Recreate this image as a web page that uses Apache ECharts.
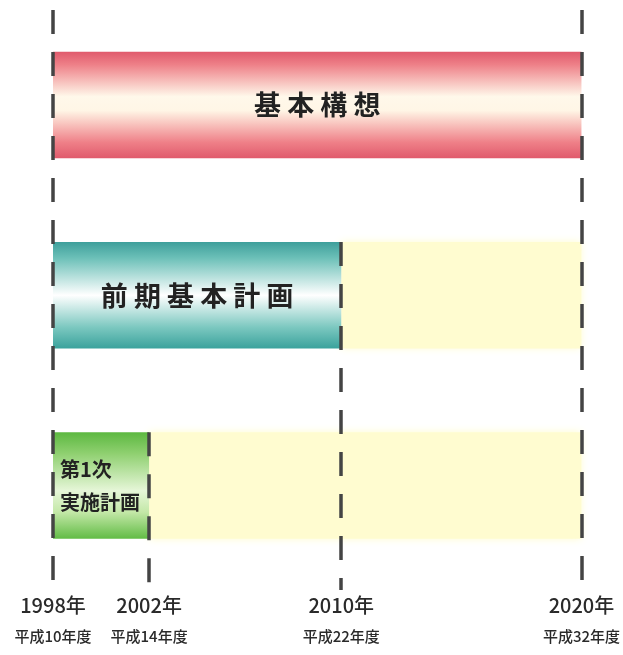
<!DOCTYPE html>
<html>
<head>
<meta charset="utf-8">
<script src="https://cdn.jsdelivr.net/npm/echarts@6/dist/echarts.min.js"></script>
<style>
html,body{margin:0;padding:0;background:#fff;}
#chart{width:623px;height:655px;}
</style>
</head>
<body>
<div id="chart"></div>
<script>
// ---- data ----
const milestoneYears = [1998, 2002, 2010, 2020];
const eraLabels = ['平成10年度', '平成14年度', '平成22年度', '平成32年度'];
const milestoneStartRow = [0, 2, 1, 0];   // row where each dashed line begins
const planNames = ['基本構想', '前期基本計画', '第1次\n実施計画'];
const planRows = [0, 1, 2];
const planStart = [1998, 1998, 1998];
const planEnd = [2020, 2010, 2002];
const followEnd = [null, 2020, 2020];     // pale continuation period

// ---- styles ----
const BAR = 0.56;
const Y_MIN = -0.5, Y_MAX = 2.55;
const grad = (stops) => new echarts.graphic.LinearGradient(0, 0, 0, 1, stops.map((c) => ({offset: c[0], color: c[1]})));
const fills = {
  red: () => grad([[0, '#e05a6c'], [0.12, '#ee8088'], [0.42, '#fff8ea'], [0.55, '#fff6e6'], [0.85, '#ef8088'], [1, '#e05a6c']]),
  teal: () => grad([[0, '#3e9f9b'], [0.15, '#6cc0b8'], [0.5, '#ffffff'], [0.8, '#7cc8c0'], [1, '#3aa29c']]),
  green: () => grad([[0, '#5cb840'], [0.2, '#8fd070'], [0.55, '#e6f6d8'], [0.75, '#c4e8a8'], [1, '#62bc46']]),
  yellow: () => '#fffcd0'
};
const keys = ['red', 'teal', 'green'];
const textStyles = [
  {fontSize: 27, align: 'center', spacing: ' '},
  {fontSize: 27, align: 'center', spacing: ' '},
  {fontSize: 20, align: 'left', spacing: '', lineHeight: 33}
];

const barData = [];
planRows.forEach((r, i) => {
  if (followEnd[i] != null) barData.push([planEnd[i], followEnd[i], r, 'yellow', '']);
});
planRows.forEach((r, i) => {
  barData.push([planStart[i], planEnd[i], r, keys[i], planNames[i]]);
});

const lineData = milestoneYears.map((y, i) => {
  const sr = milestoneStartRow[i];
  const top = sr === 0 ? Y_MIN : sr - BAR / 2;
  return [{coord: [y, top]}, {coord: [y, Y_MAX]}];
});

const chart = echarts.init(document.getElementById('chart'));
chart.setOption({
  animation: false,
  grid: {left: 53, right: 39, top: 10, bottom: 65},
  xAxis: {
    type: 'value', min: 1998, max: 2020,
    axisLine: {show: false}, axisTick: {show: false}, splitLine: {show: false},
    axisLabel: {
      customValues: milestoneYears,
      margin: 1,
      formatter: (v) => {
        const i = milestoneYears.indexOf(v);
        return '{y|' + v + '年}\n{h|' + eraLabels[i] + '}';
      },
      rich: {
        y: {fontSize: 20, lineHeight: 28, color: '#2a2a2a', fontWeight: 500, fontFamily: 'Noto Sans CJK JP'},
        h: {fontSize: 15, lineHeight: 34, color: '#2a2a2a', fontWeight: 500, fontFamily: 'Noto Sans CJK JP'}
      }
    }
  },
  yAxis: {type: 'value', inverse: true, min: Y_MIN, max: Y_MAX, show: false},
  series: [{
    type: 'custom',
    data: barData,
    encode: {x: [0, 1], y: 2},
    renderItem: (params, api) => {
      const s = api.value(0), e = api.value(1), r = api.value(2);
      const key = barData[params.dataIndex][3];
      const name = barData[params.dataIndex][4];
      const p0 = api.coord([s, r]);
      const p1 = api.coord([e, r]);
      const h = api.size([0, BAR])[1];
      const children = [{
        type: 'rect',
        shape: {x: p0[0], y: p0[1] - h / 2, width: p1[0] - p0[0], height: h},
        style: key === 'yellow'
          ? {fill: fills.yellow(), shadowBlur: 8, shadowColor: '#fffcd0'}
          : {fill: fills[key]()}
      }];
      if (name) {
        const ts = textStyles[r];
        const txt = name.split('\n').map(l => l.split('').join(ts.spacing)).join('\n');
        children.push({
          type: 'text',
          x: ts.align === 'center' ? (p0[0] + p1[0]) / 2 : p0[0] + 7,
          y: p0[1],
          style: {
            text: txt, fontSize: ts.fontSize, fontWeight: 'bold',
            fontFamily: 'Noto Sans CJK JP', fill: '#222',
            align: ts.align, verticalAlign: 'middle',
            lineHeight: ts.lineHeight || ts.fontSize * 1.2
          }
        });
      }
      return {type: 'group', children};
    },
    markLine: {
      silent: true, symbol: 'none', z: 10,
      label: {show: false},
      lineStyle: {color: '#444', width: 3.5, type: [24, 18]},
      data: lineData
    }
  }]
});
</script>
</body>
</html>
